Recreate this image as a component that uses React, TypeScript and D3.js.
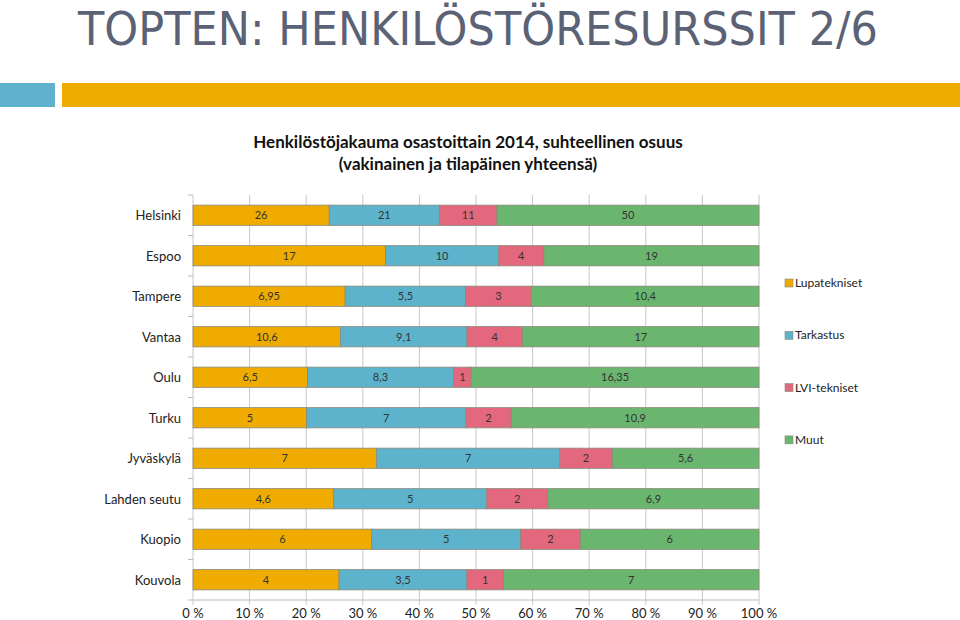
import React from "react";
import * as d3 from "d3";

const cities = ["Helsinki", "Espoo", "Tampere", "Vantaa", "Oulu", "Turku", "Jyväskylä", "Lahden seutu", "Kuopio", "Kouvola"];
const lupatekniset = [26, 17, 6.95, 10.6, 6.5, 5, 7, 4.6, 6, 4];
const tarkastus = [21, 10, 5.5, 9.1, 8.3, 7, 7, 5, 5, 3.5];
const lviTekniset = [11, 4, 3, 4, 1, 2, 2, 2, 2, 1];
const muut = [50, 19, 10.4, 17, 16.35, 10.9, 5.6, 6.9, 6, 7];
const seriesNames = ["Lupatekniset", "Tarkastus", "LVI-tekniset", "Muut"];
const seriesColors = ["#F0AB00", "#5DB3CC", "#E4687D", "#6BB66F"];
const tickValues = [0, 0.1, 0.2, 0.3, 0.4, 0.5, 0.6, 0.7, 0.8, 0.9, 1];

const W = 960, H = 620;
const plot = { left: 193, right: 759, top: 195, bottom: 600 };

export default function App() {
  const x = d3.scaleLinear().domain([0, 1]).range([plot.left, plot.right]);
  const y = d3.scaleBand().domain(cities).range([plot.top, plot.bottom]).paddingInner(0.5).paddingOuter(0.25);
  const series = [lupatekniset, tarkastus, lviTekniset, muut];
  const fmt = (v: number) => String(v).replace(".", ",");
  const rows = cities.map((c, i) => {
    const vals = series.map((s) => s[i]);
    const total = d3.sum(vals);
    let acc = 0;
    return vals.map((v, j) => {
      const x0 = acc / total;
      acc += v;
      return { city: c, j, v, x0, x1: acc / total };
    });
  });
  const step = (plot.bottom - plot.top) / cities.length;
  const font = "Lato, 'Open Sans', sans-serif";
  return (
    <svg width={W} height={H} style={{ position: "absolute", left: 0, top: 0 }} fontFamily={font}>
      <rect width={W} height={H} fill="#fff" />
      <text x={78} y={45} fontSize={46} fill="#5B6275" fontFamily="'DejaVu Sans', sans-serif" textLength={800} lengthAdjust="spacingAndGlyphs">
        TOPTEN: HENKILÖSTÖRESURSSIT 2/6
      </text>
      <rect x={0} y={83} width={55} height={24} fill="#5FB1CE" />
      <rect x={62} y={83} width={898} height={24} fill="#EEAB00" />
      <text x={468} y={148} textAnchor="middle" fontSize={17} fontWeight="bold" fill="#111">
        Henkilöstöjakauma osastoittain 2014, suhteellinen osuus
      </text>
      <text x={468} y={170} textAnchor="middle" fontSize={17} fontWeight="bold" fill="#111">
        (vakinainen ja tilapäinen yhteensä)
      </text>
      {tickValues.map((t) => (
        <line key={t} x1={x(t)} x2={x(t)} y1={plot.top} y2={plot.bottom + 5} stroke="#C8C8C8" strokeWidth={1} />
      ))}
      <line x1={plot.left} x2={plot.right} y1={plot.bottom} y2={plot.bottom} stroke="#BBBBBB" />
      {d3.range(cities.length + 1).map((k) => (
        <line key={k} x1={plot.left - 5} x2={plot.left} y1={plot.top + k * step} y2={plot.top + k * step} stroke="#BBBBBB" />
      ))}
      {rows.map((segs) =>
        segs.map((s) => (
          <g key={s.city + s.j}>
            <rect x={x(s.x0)} y={y(s.city)} width={x(s.x1) - x(s.x0)} height={y.bandwidth()} fill={seriesColors[s.j]} stroke="#8A8A7A" strokeWidth={0.8} />
            <text x={(x(s.x0) + x(s.x1)) / 2} y={(y(s.city) as number) + y.bandwidth() / 2 + 4} textAnchor="middle" fontSize={11} fill="#333">
              {fmt(s.v)}
            </text>
          </g>
        ))
      )}
      {cities.map((c) => (
        <text key={c} x={181} y={(y(c) as number) + y.bandwidth() / 2 + 5} textAnchor="end" fontSize={13} fill="#222">
          {c}
        </text>
      ))}
      {tickValues.map((t) => (
        <text key={"l" + t} x={x(t)} y={618} textAnchor="middle" fontSize={13} fill="#222">
          {Math.round(t * 100) + " %"}
        </text>
      ))}
      {seriesNames.map((n, i) => (
        <g key={n}>
          <rect x={785} y={279 + i * 52.3} width={8} height={8} fill={seriesColors[i]} stroke="#8A8A7A" strokeWidth={0.6} />
          <text x={795} y={287 + i * 52.3} fontSize={12} fill="#222">
            {n}
          </text>
        </g>
      ))}
    </svg>
  );
}
